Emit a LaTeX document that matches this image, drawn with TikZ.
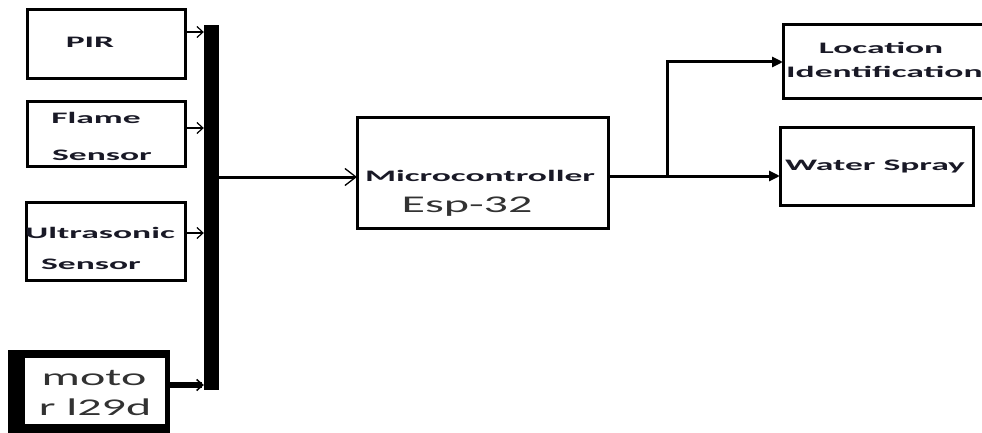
\documentclass[tikz,border=0pt]{standalone}
\usepackage{fontspec}
\setmainfont{Carlito}
\newfontfamily\widebold[FakeStretch=2.22]{Carlito Bold}
\newfontfamily\wideregular[FakeStretch=2.0]{Carlito}
\usetikzlibrary{arrows.meta}
\definecolor{ink}{RGB}{25,25,38}
\definecolor{inkgray}{RGB}{50,50,50}
\begin{document}
\begin{tikzpicture}[x=1pt,y=-1pt,
  box/.style={draw=black, line width=3pt, inner sep=0pt, outer sep=0pt},
  lbl/.style={inner sep=0pt, text=ink, font=\widebold\fontsize{16}{18}\selectfont},
  big/.style={inner sep=0pt, text=inkgray, font=\wideregular\fontsize{24}{26}\selectfont},
  conn/.style={line width=2.5pt, -{Straight Barb[length=6pt,width=11pt,line width=1.2pt]}},
  outarrow/.style={line width=3pt, -{Triangle[length=11pt,width=10pt]}}]
\useasboundingbox (0,0) rectangle (982,433);
\clip (0,0) rectangle (982,433);
% boxes
\node[box, minimum width=158pt, minimum height=69pt] (pir) at (106,44.5) {};
\node[box, minimum width=158pt, minimum height=64pt] (flame) at (106,134) {};
\node[box, minimum width=159pt, minimum height=78pt] (ultra) at (105.5,241) {};
\node[fill=black, inner sep=0pt, minimum width=162pt, minimum height=95pt] (motor) at (89,397.5) {};
\node[fill=white, inner sep=0pt, minimum width=140pt, minimum height=66pt] (motorin) at (95,391) {};
\node[fill=black, inner sep=0pt, minimum width=15pt, minimum height=365pt] (bus) at (211.5,207.5) {};
\node[box, minimum width=251pt, minimum height=110pt] (micro) at (482.5,173) {};
\node[box, minimum width=217pt, minimum height=74pt] (loc) at (891.5,62) {};
\node[box, minimum width=193pt, minimum height=77pt] (water) at (876.5,166.5) {};
% texts
\node[lbl] (tpir) at (90,42) {PIR};
\node[lbl] (tflame1) at (96,118) {Flame};
\node[lbl] (tflame2) at (102,155) {Sensor};
\node[lbl] (tultra1) at (100,233) {Ultrasonic};
\node[lbl] (tultra2) at (91,264) {Sensor};
\node[big] (tmot1) at (94,378) {moto};
\node[big] (tmot2) at (95,407) {r l29d};
\node[lbl] (tmicro1) at (480,176) {Microcontroller};
\node[big] (tmicro2) at (467,207) {Esp-32};
\node[lbl] (tloc1) at (881,48) {Location};
\node[lbl, anchor=west] (tloc2) at (786,72) {Identification};
\node[lbl] (twater) at (875,167) {Water Spray};
% connectors into bus
\path ([yshift=12.5pt]pir.east) coordinate (a1);
\path ([yshift=6pt]flame.east) coordinate (a2);
\path ([yshift=8pt]ultra.east) coordinate (a3);
\path ([yshift=12.5pt]motor.east) coordinate (a4);
\draw[conn] (a1) -- (a1 -| bus.west);
\draw[conn] (a2) -- (a2 -| bus.west);
\draw[conn] (a3) -- (a3 -| bus.west);
\draw[line width=6pt, -{Straight Barb[length=6pt,width=11pt,line width=1.5pt]}] (a4) -- (a4 -| bus.west);
% bus to microcontroller
\path ([yshift=-4pt]micro.west) coordinate (m1);
\draw[line width=3pt, -{Straight Barb[length=11pt,width=17pt,line width=1.3pt]}] (m1 -| bus.east) -- (m1);
% microcontroller to outputs
\path ([yshift=-3pt]micro.east) coordinate (m2);
\coordinate (j) at (667,176);
\draw[line width=3pt] (m2) -- (j);
\draw[outarrow] (j) |- (loc.west);
\draw[outarrow] (j) -- (j -| water.west);
\end{tikzpicture}
\end{document}
